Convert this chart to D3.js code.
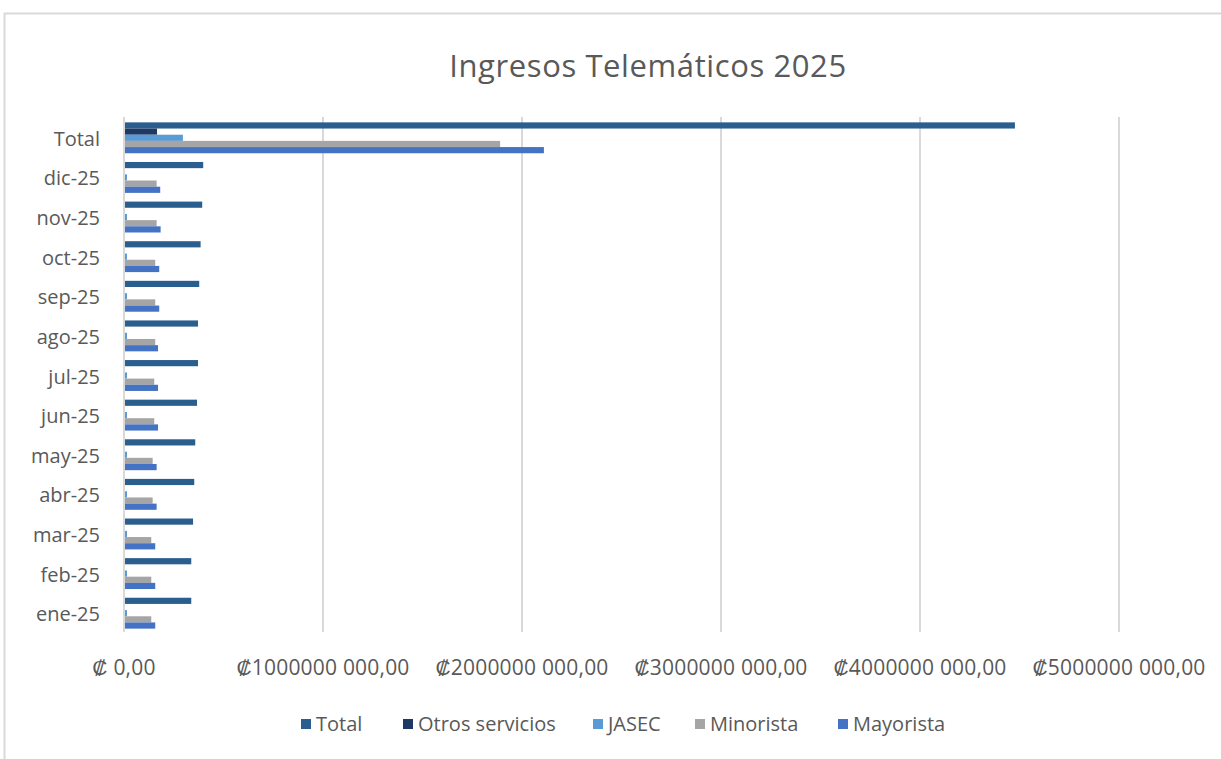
<!DOCTYPE html>
<html>
<head>
<meta charset="utf-8">
<script src="https://cdn.jsdelivr.net/npm/d3@7/dist/d3.min.js"></script>
<style>
  html, body { margin: 0; padding: 0; background: #fff; }
  svg { display: block; font-family: "Open Sans", "Liberation Sans", sans-serif; }
</style>
</head>
<body>
<svg id="chart" width="1221" height="759"></svg>
<script>
// Categories (top to bottom)
const categories = ["Total", "dic-25", "nov-25", "oct-25", "sep-25", "ago-25", "jul-25", "jun-25", "may-25", "abr-25", "mar-25", "feb-25", "ene-25"];
const seriesNames = ["Total", "Otros servicios", "JASEC", "Minorista", "Mayorista"];
// Values in colones
const totalValues      = [4477000000, 398000000, 393000000, 385000000, 378000000, 372000000, 372000000, 367000000, 358000000, 353000000, 347000000, 338000000, 338000000];
const otrosValues      = [166000000, 5000000, 5000000, 5000000, 5000000, 5000000, 5000000, 5000000, 5000000, 5000000, 5000000, 5000000, 5000000];
const jasecValues      = [296000000, 15000000, 15000000, 15000000, 15000000, 15000000, 15000000, 15000000, 15000000, 15000000, 15000000, 15000000, 15000000];
const minoristaValues  = [1890000000, 164000000, 164000000, 157000000, 157000000, 157000000, 152000000, 152000000, 144000000, 144000000, 137000000, 137000000, 137000000];
const mayoristaValues  = [2110000000, 182000000, 184000000, 177000000, 177000000, 171000000, 171000000, 171000000, 164000000, 164000000, 157000000, 157000000, 157000000];
const tickValues = [0, 1000000000, 2000000000, 3000000000, 4000000000, 5000000000];
const tickLabels = ["₡ 0,00", "₡1000000 000,00", "₡2000000 000,00", "₡3000000 000,00", "₡4000000 000,00", "₡5000000 000,00"];
const colors = ["#2A5E8F", "#203864", "#5B9BD5", "#A5A5A5", "#4472C4"];
const title = "Ingresos Telemáticos 2025";

const seriesValues = [totalValues, otrosValues, jasecValues, minoristaValues, mayoristaValues];
const data = categories.map((c, i) => ({ cat: c, vals: seriesValues.map((s, j) => ({ name: seriesNames[j], v: s[i], j })) }));

const svg = d3.select("#chart");
const pLeft = 124, pRight = 1119, pTop = 117, pBottom = 632;

// Chart border
svg.append("rect").attr("x", 4.5).attr("y", 13.5).attr("width", 1240).attr("height", 800)
  .attr("fill", "#fff").attr("stroke", "#D9D9D9").attr("stroke-width", 2);

// Title
svg.append("text").attr("x", 648).attr("y", 77).attr("text-anchor", "middle")
  .attr("font-size", 31).attr("letter-spacing", "0.6").attr("fill", "#595959").text(title);

const x = d3.scaleLinear().domain([0, 5000000000]).range([pLeft, pRight]);
const y = d3.scaleBand().domain(categories).range([pTop, pBottom]).paddingInner(0.22).paddingOuter(0.11);
const y1 = d3.scaleBand().domain(seriesNames).range([0, y.bandwidth()]);

// Gridlines
svg.append("g").selectAll("line").data(tickValues).join("line")
  .attr("x1", d => x(d)).attr("x2", d => x(d))
  .attr("y1", pTop).attr("y2", pBottom)
  .attr("stroke", "#D9D9D9").attr("stroke-width", 2);

// Bars
const groups = svg.append("g").selectAll("g").data(data).join("g")
  .attr("transform", d => `translate(0,${y(d.cat) + 1})`);
groups.selectAll("rect").data(d => d.vals).join("rect")
  .attr("x", x(0) + 1)
  .attr("y", d => y1(d.name))
  .attr("width", d => Math.max(0, x(d.v) - x(0) - 1))
  .attr("height", y1.bandwidth())
  .attr("fill", d => colors[d.j]);

// Category labels
svg.append("g").selectAll("text").data(categories).join("text")
  .attr("x", 100).attr("y", d => y(d) + y.bandwidth() / 2 + 2)
  .attr("dy", "0.35em").attr("text-anchor", "end")
  .attr("font-size", 20).attr("fill", "#595959").text(d => d);

// X tick labels
svg.append("g").selectAll("text").data(tickValues).join("text")
  .attr("x", d => x(d)).attr("y", 668).attr("dy", "0.35em").attr("text-anchor", "middle")
  .attr("font-size", 21).attr("fill", "#595959").attr("letter-spacing", "0.2")
  .text((d, i) => tickLabels[i]);

// Legend
const legendX = [301, 403, 593, 695, 838];
const lg = svg.append("g").selectAll("g").data(seriesNames).join("g")
  .attr("transform", (d, i) => `translate(${legendX[i]},724)`);
lg.append("rect").attr("x", 0).attr("y", -5).attr("width", 10).attr("height", 10)
  .attr("fill", (d, i) => colors[i]);
lg.append("text").attr("x", 15).attr("y", 0).attr("dy", "0.35em")
  .attr("font-size", 20).attr("fill", "#595959").text(d => d);
</script>
</body>
</html>
